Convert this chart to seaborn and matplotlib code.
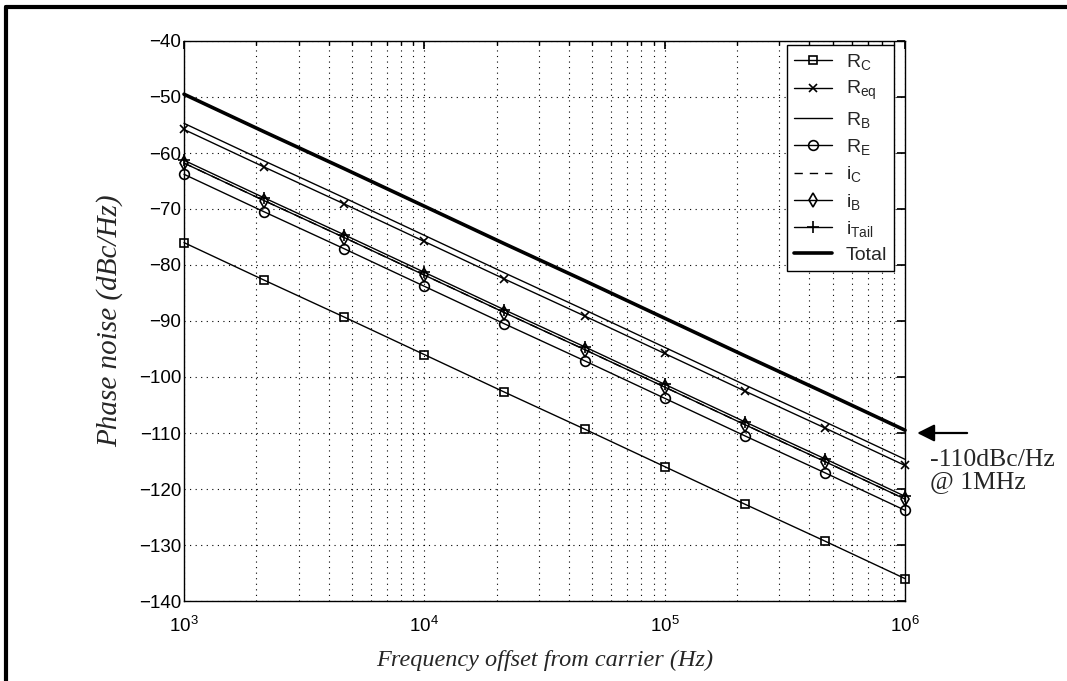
import matplotlib
matplotlib.use("Agg")
import matplotlib.pyplot as plt
import matplotlib.ticker as mticker
from matplotlib.lines import Line2D
import seaborn as sns
import numpy as np

# ---- data ----
freq = [1e3, 2.154e3, 4.642e3, 1e4, 2.154e4, 4.642e4, 1e5, 2.154e5, 4.642e5, 1e6]
r_c    = [-76.0, -82.7, -89.3, -96.0, -102.7, -109.3, -116.0, -122.7, -129.3, -136.0]
r_eq   = [-55.8, -62.5, -69.1, -75.8, -82.5, -89.1, -95.8, -102.5, -109.1, -115.8]
r_b    = [-54.7, -61.4, -68.0, -74.7, -81.4, -88.0, -94.7, -101.4, -108.0, -114.7]
r_e    = [-63.8, -70.5, -77.1, -83.8, -90.5, -97.1, -103.8, -110.5, -117.1, -123.8]
i_c    = [-61.8, -68.5, -75.1, -81.8, -88.5, -95.1, -101.8, -108.5, -115.1, -121.8]
i_b    = [-61.8, -68.5, -75.1, -81.8, -88.5, -95.1, -101.8, -108.5, -115.1, -121.8]
i_tail = [-61.3, -68.0, -74.6, -81.3, -88.0, -94.6, -101.3, -108.0, -114.6, -121.3]
total  = [-49.5, -56.2, -62.8, -69.5, -76.2, -82.8, -89.5, -96.2, -102.8, -109.5]

labels = [r"R$_{C}$", r"R$_{eq}$", r"R$_{B}$", r"R$_{E}$",
          r"i$_{C}$", r"i$_{B}$", r"i$_{Tail}$", "Total"]
series = [r_c, r_eq, r_b, r_e, i_c, i_b, i_tail, total]

sns.set_theme(style="white")
plt.rcParams["font.family"] = ["Liberation Sans", "DejaVu Sans"]
plt.rcParams["mathtext.default"] = "regular"
plt.rcParams["axes.unicode_minus"] = True

fig = plt.figure(figsize=(10.67, 6.81), dpi=100)
ax = fig.add_axes([184 / 1067, 1 - 601 / 681, 721 / 1067, (601 - 41) / 681])

styles = [
    dict(marker="s", linestyle="-", lw=1.0, ms=5.5),
    dict(marker="x", linestyle="-", lw=1.0, ms=5.5),
    dict(marker=None, linestyle="-", lw=1.0, ms=6),
    dict(marker="o", linestyle="-", lw=1.0, ms=7),
    dict(marker=None, linestyle=(0, (6, 5)), lw=1.0, ms=6),
    dict(marker="d", linestyle="-", lw=1.0, ms=7.5),
    dict(marker="+", linestyle="-", lw=1.0, ms=8),
    dict(marker=None, linestyle="-", lw=2.6, ms=6),
]

handles = []
for vals, lab, st in zip(series, labels, styles):
    kw = dict(color="black", linestyle=st["linestyle"], linewidth=st["lw"])
    if st["marker"] is not None:
        kw.update(marker=st["marker"], markersize=st["ms"],
                  markerfacecolor="none", markeredgecolor="black",
                  markeredgewidth=1.2)
    sns.lineplot(x=freq, y=vals, ax=ax, legend=False, clip_on=False, **kw)
    handles.append(Line2D([], [], label=lab, **kw))

ax.set_xscale("log")
ax.set_xlim(1e3, 1e6)
ax.set_ylim(-140, -40)
ax.set_yticks(np.arange(-140, -39, 10))
ax.xaxis.set_major_locator(mticker.LogLocator(base=10, numticks=10))
ax.xaxis.set_minor_locator(mticker.LogLocator(base=10, subs=np.arange(2, 10), numticks=20))
ax.xaxis.set_minor_formatter(mticker.NullFormatter())

ax.grid(True, which="major", axis="both", color="black", linestyle=(0, (1, 4)), linewidth=0.8)
ax.grid(True, which="minor", axis="x", color="black", linestyle=(0, (1, 4)), linewidth=0.8)
ax.tick_params(which="both", direction="in", top=True, right=True, colors="black")
ax.tick_params(which="major", length=6, labelsize=13.5)
ax.tick_params(axis="y", which="major", pad=2)
ax.tick_params(axis="x", which="major", pad=11)
ax.tick_params(which="minor", length=3)
for sp in ax.spines.values():
    sp.set_color("black")
    sp.set_linewidth(1.0)

ax.set_xlabel("Frequency offset from carrier (Hz)", family="Liberation Serif",
              style="italic", fontsize=17.5, labelpad=10)
ax.set_ylabel("Phase noise (dBc/Hz)", family="Liberation Serif",
              style="italic", fontsize=21, labelpad=11)

leg = ax.legend(handles=handles, loc="upper right",
                bbox_to_anchor=(0.985, 0.993), borderaxespad=0.0,
                fontsize=14, handlelength=2.0, labelspacing=0.38,
                frameon=True, fancybox=False, edgecolor="black",
                framealpha=1.0, borderpad=0.35, handletextpad=0.7)
leg.get_frame().set_linewidth(1.0)

ax.annotate("", xy=(1.013, -110), xytext=(1.09, -110),
            xycoords=("axes fraction", "data"), textcoords=("axes fraction", "data"),
            arrowprops=dict(arrowstyle="-|>", color="black", lw=1.6,
                            mutation_scale=26), annotation_clip=False)
ax.text(1.035, -116.8, "-110dBc/Hz\n@ 1MHz", transform=ax.get_yaxis_transform(),
        family="Liberation Serif", fontsize=18.5, va="center", ha="left",
        linespacing=1.05, clip_on=False)

# frame lines of the original scan (top and left)
fig.add_artist(Line2D([6 / 1067, 1.0], [1 - 7 / 681, 1 - 7 / 681],
                      transform=fig.transFigure, color="black", lw=3))
fig.add_artist(Line2D([6 / 1067, 6 / 1067], [0.0, 1 - 7 / 681],
                      transform=fig.transFigure, color="black", lw=3))

fig.savefig("out.png", dpi=100)
